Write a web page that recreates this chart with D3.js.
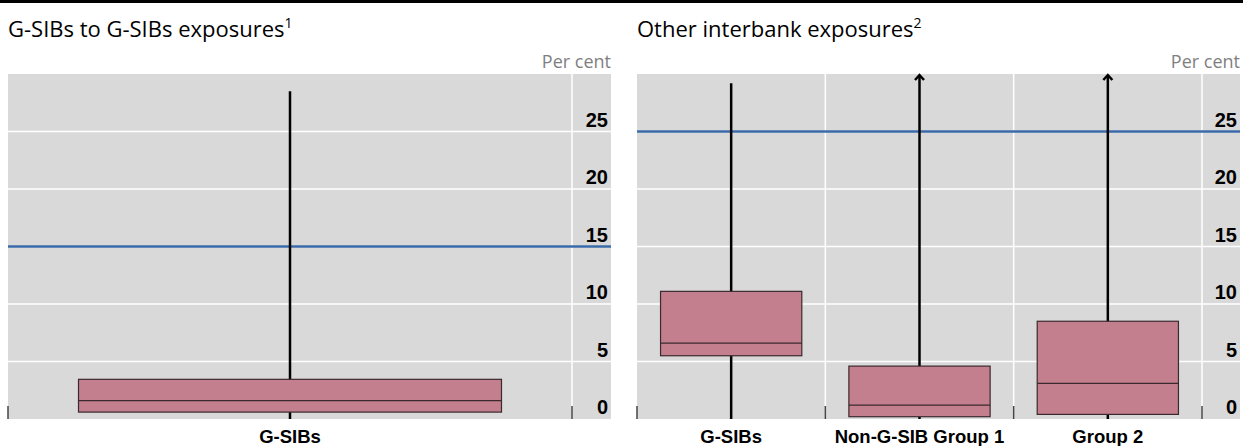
<!DOCTYPE html>
<html lang="en">
<head>
<meta charset="UTF-8" />
<title>Interbank exposures</title>
<script src="https://d3js.org/d3.v7.min.js"></script>
<style>
  body { margin: 0; background: #fff; }
</style>
</head>
<body>
<script>
// panel 1: G-SIBs to G-SIBs
var leftCats = ["G-SIBs"];
var leftLow = [0];
var leftQ1 = [0.6];
var leftMed = [1.6];
var leftQ3 = [3.45];
var leftHigh = [28.5];
var leftLimit = 15;

// panel 2: other interbank
var rightCats = ["G-SIBs", "Non-G-SIB Group 1", "Group 2"];
var rightLow = [0, 0, 0];
var rightQ1 = [5.5, 0.2, 0.4];
var rightMed = [6.6, 1.2, 3.1];
var rightQ3 = [11.1, 4.6, 8.5];
var rightHigh = [29.2, 40, 40];   // > axis max, drawn with arrow
var rightLimit = 25;

var yTicks = [0, 5, 10, 15, 20, 25];
var yMax = 30;

var W = 1243, H = 446;
var svg = d3.select("body").append("svg")
  .attr("width", W).attr("height", H);

// top rule
svg.append("rect").attr("x", 0).attr("y", 0).attr("width", W).attr("height", 3).attr("fill", "#000");

var y = d3.scaleLinear().domain([0, yMax]).range([419, 74]);

function panel(opts) {
  var g = svg.append("g");
  var x = d3.scaleBand().domain(opts.cats).range([opts.x0, opts.x1]).padding(0);

  // title
  var t = g.append("text").attr("x", opts.x0).attr("y", 37)
    .attr("font-family", "'Open Sans', 'Noto Sans', sans-serif").attr("font-size", 22).attr("fill", "#000");
  t.append("tspan").text(opts.title);
  t.append("tspan").attr("dy", -9).attr("font-size", 14).text(opts.note);

  g.append("text").attr("x", opts.xEnd).attr("y", 68).attr("text-anchor", "end")
    .attr("font-family", "'Open Sans', 'Noto Sans', sans-serif").attr("font-size", 18).attr("fill", "#7f7f7f")
    .text("Per cent");

  // background
  g.append("rect").attr("x", opts.x0).attr("y", y(yMax)).attr("width", opts.xEnd - opts.x0)
    .attr("height", y(0) - y(yMax)).attr("fill", "#d9d9d9");

  // horizontal gridlines
  g.selectAll(".hg").data(yTicks.filter(d => d > 0)).enter().append("line")
    .attr("x1", opts.x0).attr("x2", opts.xEnd)
    .attr("y1", d => y(d)).attr("y2", d => y(d))
    .attr("stroke", "#fff").attr("stroke-width", 1.5);

  // vertical gridlines at band edges
  var edges = opts.cats.slice(1).map(c => x(c)).concat([opts.x1]);
  g.selectAll(".vg").data(edges).enter().append("line")
    .attr("x1", d => d).attr("x2", d => d)
    .attr("y1", y(yMax)).attr("y2", y(0))
    .attr("stroke", "#fff").attr("stroke-width", 1.5);

  // bottom ticks at band edges
  var allEdges = opts.cats.map(c => x(c)).concat([opts.x1]);
  g.selectAll(".bt").data(allEdges).enter().append("line")
    .attr("x1", d => d).attr("x2", d => d)
    .attr("y1", y(0) - 13).attr("y2", y(0))
    .attr("stroke", "#444").attr("stroke-width", 1.5);

  // y labels
  g.selectAll(".yl").data(yTicks).enter().append("text")
    .attr("x", opts.xEnd - 3).attr("y", d => y(d) - 5)
    .attr("text-anchor", "end")
    .attr("font-family", "'Liberation Sans', Arial, sans-serif").attr("font-weight", "bold")
    .attr("font-size", 20).attr("fill", "#000")
    .text(d => d);

  // limit line
  g.append("line").attr("x1", opts.x0).attr("x2", opts.xEnd)
    .attr("y1", y(opts.limit)).attr("y2", y(opts.limit))
    .attr("stroke", "#3a6aaa").attr("stroke-width", 2.5);

  var cx = d => x(d) + x.bandwidth() / 2;
  var bw = x.bandwidth() * 0.75;

  // whiskers
  g.selectAll(".wk").data(opts.cats).enter().append("line")
    .attr("x1", cx).attr("x2", cx)
    .attr("y1", (d, i) => y(opts.low[i]))
    .attr("y2", (d, i) => y(Math.min(opts.high[i], yMax)) + (opts.high[i] > yMax ? 1 : 0))
    .attr("stroke", "#000").attr("stroke-width", 2.5);

  // arrows for off-scale values
  g.selectAll(".ar").data(opts.cats.filter((d, i) => opts.high[i] > yMax)).enter().append("path")
    .attr("d", d => {
      var px = cx(d), py = y(yMax) + 1;
      return "M" + (px - 4.5) + "," + (py + 5) + "L" + px + "," + py + "L" + (px + 4.5) + "," + (py + 5);
    })
    .attr("fill", "none").attr("stroke", "#000").attr("stroke-width", 2.5);

  // boxes
  g.selectAll(".bx").data(opts.cats).enter().append("rect")
    .attr("x", d => cx(d) - bw / 2).attr("width", bw)
    .attr("y", (d, i) => y(opts.q3[i]))
    .attr("height", (d, i) => y(opts.q1[i]) - y(opts.q3[i]))
    .attr("fill", "#c47f8e").attr("stroke", "#3a2a2e").attr("stroke-width", 1.2);

  // medians
  g.selectAll(".md").data(opts.cats).enter().append("line")
    .attr("x1", d => cx(d) - bw / 2).attr("x2", d => cx(d) + bw / 2)
    .attr("y1", (d, i) => y(opts.med[i])).attr("y2", (d, i) => y(opts.med[i]))
    .attr("stroke", "#3a2a2e").attr("stroke-width", 1.2);

  // category labels
  g.selectAll(".cl").data(opts.cats).enter().append("text")
    .attr("x", cx).attr("y", 443).attr("text-anchor", "middle")
    .attr("font-family", "'Liberation Sans', Arial, sans-serif").attr("font-weight", "bold")
    .attr("font-size", 18.5).attr("fill", "#000")
    .text(d => d);
}

panel({
  title: "G-SIBs to G-SIBs exposures", note: "1",
  cats: leftCats, low: leftLow, q1: leftQ1, med: leftMed, q3: leftQ3, high: leftHigh,
  limit: leftLimit, x0: 8, x1: 572, xEnd: 611
});

panel({
  title: "Other interbank exposures", note: "2",
  cats: rightCats, low: rightLow, q1: rightQ1, med: rightMed, q3: rightQ3, high: rightHigh,
  limit: rightLimit, x0: 637, x1: 1202, xEnd: 1240
});
</script>
</body>
</html>
